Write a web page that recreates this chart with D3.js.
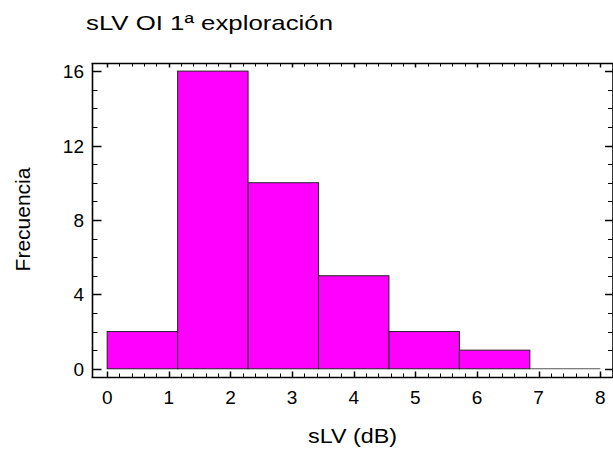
<!DOCTYPE html>
<html><head><meta charset="utf-8">
<script src="https://cdn.jsdelivr.net/npm/d3@7"></script>
<style>body{margin:0;background:#fff}svg{display:block}text{font-family:"Liberation Sans",Arial,sans-serif;fill:#000}</style>
</head><body>
<script>
const binStarts = [0, 1.143, 2.286, 3.429, 4.571, 5.714, 6.857];
const binEnds   = [1.143, 2.286, 3.429, 4.571, 5.714, 6.857, 8.0];
const counts    = [2, 16, 10, 5, 2, 1, 0];
const xTicks = [0,1,2,3,4,5,6,7,8];
const yTicks = [0,4,8,12,16];
const title = "sLV OI 1ª exploración";
const xTitle = "sLV (dB)";
const yTitle = "Frecuencia";

const W=613,H=456;
const L=92.5,R=613,T=63.5,B=377.5;
const svg=d3.select("body").append("svg").attr("width",W).attr("height",H);
const x=d3.scaleLinear().domain([-0.238,8.206]).range([L,R]);
const y=d3.scaleLinear().domain([-0.47,16.41]).range([B,T]);

// bars
const bins=counts.map((c,i)=>({c,x0:binStarts[i],x1:binEnds[i]}));
svg.append("g").selectAll("rect").data(bins.filter(d=>d.c>0)).join("rect")
  .attr("x",d=>x(d.x0)).attr("width",d=>x(d.x1)-x(d.x0))
  .attr("y",d=>y(d.c)).attr("height",d=>y(0)-y(d.c))
  .attr("fill","#ff00ff").attr("stroke","#222").attr("stroke-width",1);
svg.append("g").selectAll("line").data(bins.filter(d=>d.c===0)).join("line")
  .attr("x1",d=>x(d.x0)).attr("x2",d=>x(d.x1)).attr("y1",y(0)).attr("y2",y(0))
  .attr("stroke","#555").attr("stroke-width",1);

// ticks
const minorX=d3.range(0,41).map(i=>i*0.2).filter(v=>Math.abs(v-Math.round(v))>1e-6);
const minorY=d3.range(0,17).filter(v=>v%4!==0);
const g=svg.append("g").attr("stroke","#000");
function hline(y0,x1,x2,w){g.append("line").attr("x1",x1).attr("x2",x2).attr("y1",y0).attr("y2",y0).attr("stroke-width",w);}
function vline(x0,y1,y2,w){g.append("line").attr("x1",x0).attr("x2",x0).attr("y1",y1).attr("y2",y2).attr("stroke-width",w);}
xTicks.forEach(v=>{const px=Math.round(x(v))+0.5; vline(px,B,B-6,1.5); vline(px,T,T+4,1.5);});
minorX.forEach(v=>{const px=Math.round(x(v))+0.5; vline(px,B,B-4,1); vline(px,T,T+3,1);});
yTicks.forEach(v=>{const py=Math.round(y(v))+0.5; hline(py,L,L+9,1.5); hline(py,R,R-8,1.5);});
minorY.forEach(v=>{const py=Math.round(y(v))+0.5; hline(py,L,L+5,1); hline(py,R,R-5,1);});
// frame
hline(B,L-1,R,1.6); hline(T,L-1,R,1.6); vline(L,T,B,1.6); vline(R,T,B,1.6);

// labels
svg.append("g").selectAll("text").data(xTicks).join("text")
  .attr("x",d=>x(d)).attr("y",403.5).attr("text-anchor","middle").attr("font-size",19).text(d=>d);
svg.append("g").selectAll("text").data(yTicks).join("text")
  .attr("x",84).attr("y",d=>y(d)+7).attr("text-anchor","end").attr("font-size",19).text(d=>d);
svg.append("text").attr("x",308).attr("y",443).attr("font-size",21)
  .attr("textLength",89).attr("lengthAdjust","spacingAndGlyphs").text(xTitle);
svg.append("text").attr("transform","translate(30,219.5) rotate(-90)").attr("text-anchor","middle").attr("font-size",21).text(yTitle);
svg.append("text").attr("x",86).attr("y",29.5).attr("font-size",21)
  .attr("textLength",247).attr("lengthAdjust","spacingAndGlyphs").text(title);
</script>
</body></html>
